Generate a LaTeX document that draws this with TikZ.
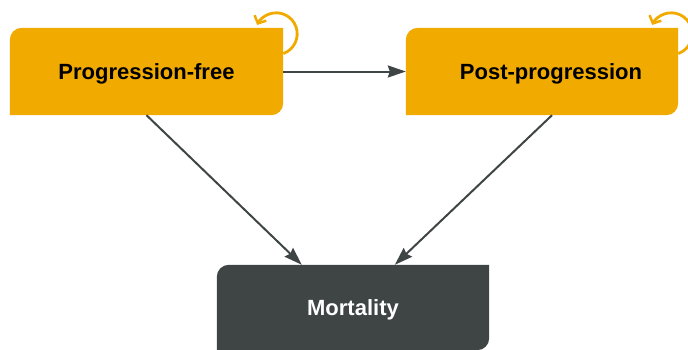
\documentclass[tikz,border=0pt]{standalone}
\usepackage{fontspec}
\setmainfont{Liberation Sans}
\usetikzlibrary{arrows.meta}
\definecolor{boxorange}{RGB}{240,170,0}
\definecolor{boxdark}{RGB}{63,68,68}
\begin{document}
\begin{tikzpicture}[x=1pt,y=1pt,
  box/.style={inner sep=0pt, minimum height=87pt},
  lbl/.style={font=\fontsize{22pt}{26pt}\selectfont\bfseries},
  conn/.style={draw=boxdark, line width=2pt, -{Stealth[length=18pt,width=12pt,inset=2pt]}},
  loop/.style={draw=boxorange, line width=2.8pt, -{Straight Barb[length=6pt,width=13pt,line width=2.5pt]}}
]
\useasboundingbox (0,0) rectangle (688,-349);
\def\rr{12}
% boxes (anchors only)
\node[box, minimum width=273pt] (pf) at (146.5,-71.5) {};
\node[box, minimum width=272pt] (pp) at (542,-71.5) {};
\node[box, minimum width=272pt, minimum height=85pt] (mo) at (353,-307.5) {};
% fills
\foreach \n/\c in {pf/boxorange, pp/boxorange, mo/boxdark}{
  \fill[\c] (\n.south west) -- ([yshift=-\rr pt]\n.north west) arc[start angle=180,end angle=90,radius=\rr pt]
    -- (\n.north east) -- ([yshift=\rr pt]\n.south east) arc[start angle=0,end angle=-90,radius=\rr pt] -- cycle;
}
% labels
\node[lbl, text=black] (pft) at ([yshift=-2pt]pf.center) {Progression-free};
\node[lbl, text=black] (ppt) at ([xshift=9pt,yshift=-2pt]pp.center) {Post-progression};
\node[lbl, text=white] (mot) at ([yshift=-2.5pt]mo.center) {Mortality};
% connectors
\draw[conn] (pf.east) -- (pp.west);
\draw[conn] (pf.south) -- ([xshift=85pt]mo.north west);
\draw[conn] ([xshift=10pt]pp.south) -- ([xshift=178pt]mo.north west);
% self loops
\foreach \n in {pf,pp}{
  \coordinate (\n c) at ([xshift=-7pt,yshift=-6pt]\n.north east);
  \draw[loop] ([shift={(-70.5:21pt)}]\n c) arc[start angle=-70.5,end angle=155,radius=21pt];
}
\end{tikzpicture}
\end{document}
